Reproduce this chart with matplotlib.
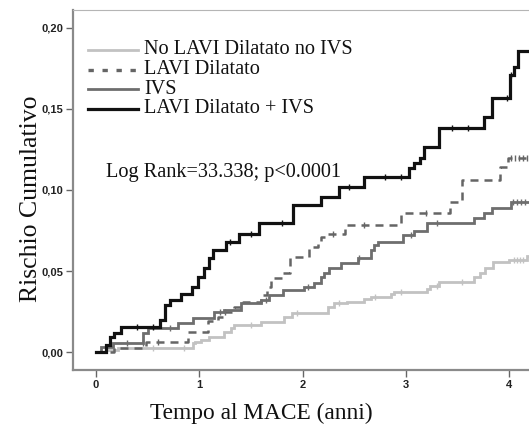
import numpy as np
import matplotlib
matplotlib.use('Agg')
import matplotlib.pyplot as plt

# -------------------- Data --------------------
# event times (anni) and cumulative risk reached at each step
t_no = [0.097, 0.214, 0.934, 0.96, 1.012, 1.09, 1.236, 1.304, 1.333, 1.596, 1.82, 1.898,
        2.248, 2.307, 2.433, 2.599, 2.667, 2.861, 2.89, 3.202, 3.24, 3.319, 3.66, 3.718,
        3.766, 3.844, 4.0, 4.175]
r_no = [0.0012, 0.0025, 0.0055, 0.0062, 0.0074, 0.0093, 0.0123, 0.0148, 0.0167, 0.0185, 0.0216, 0.024,
        0.028, 0.030, 0.031, 0.033, 0.034, 0.036, 0.037, 0.039, 0.041, 0.043, 0.046, 0.049,
        0.052, 0.0555, 0.057, 0.059]

t_lavi = [0.175, 0.487, 0.886, 1.08, 1.178, 1.236, 1.333, 1.421, 1.596, 1.654, 1.693, 1.81,
          1.878, 2.063, 2.151, 2.18, 2.219, 2.414, 2.959, 3.426, 3.543, 3.912, 3.99]
r_lavi = [0.0025, 0.006, 0.0123, 0.019, 0.0216, 0.0247, 0.028, 0.031, 0.035, 0.040, 0.0457, 0.049,
          0.0586, 0.0648, 0.067, 0.071, 0.073, 0.0784, 0.0858, 0.0926, 0.106, 0.114, 0.120]

t_ivs = [0.049, 0.165, 0.457, 0.506, 0.798, 0.934, 1.139, 1.236, 1.401, 1.596, 1.674, 1.81,
         2.015, 2.112, 2.18, 2.209, 2.258, 2.375, 2.54, 2.667, 2.696, 2.735, 2.978, 3.085,
         3.202, 3.66, 3.757, 3.835, 4.02]
r_ivs = [0.003, 0.0055, 0.0117, 0.0148, 0.018, 0.021, 0.0247, 0.026, 0.030, 0.032, 0.035, 0.038,
         0.040, 0.0426, 0.046, 0.049, 0.052, 0.055, 0.058, 0.063, 0.066, 0.068, 0.072, 0.075,
         0.0796, 0.0827, 0.0858, 0.089, 0.0926]

t_both = [0.097, 0.136, 0.175, 0.243, 0.623, 0.672, 0.72, 0.818, 0.93, 0.983, 1.041, 1.09,
          1.129, 1.255, 1.382, 1.577, 1.908, 2.18, 2.355, 2.599, 3.036, 3.085, 3.134, 3.182,
          3.319, 3.757, 3.835, 4.01, 4.05, 4.088]
r_both = [0.0043, 0.009, 0.0117, 0.0154, 0.0197, 0.029, 0.032, 0.036, 0.040, 0.046, 0.052, 0.058,
          0.063, 0.068, 0.073, 0.0795, 0.0907, 0.0957, 0.1018, 0.108, 0.1135, 0.1166, 0.120, 0.1265,
          0.138, 0.145, 0.157, 0.171, 0.176, 0.186]

# censored observations (tick marks)
c_no = [0.55, 0.85, 1.5, 1.95, 2.35, 2.7, 2.95, 3.3, 3.55, 4.05, 4.08, 4.11, 4.14]
c_lavi = [0.6, 1.25, 2.3, 2.6, 3.2, 4.02, 4.06, 4.1, 4.14, 4.18]
c_ivs = [0.3, 0.45, 0.72, 1.2, 1.65, 2.05, 2.55, 3.05, 3.3, 4.04, 4.08, 4.12, 4.16]
c_both = [0.4, 0.55, 1.3, 1.5, 1.8, 2.45, 2.8, 2.95, 3.45, 3.6, 3.98, 4.02]

labels = ['No LAVI Dilatato no IVS', 'LAVI Dilatato', 'IVS', 'LAVI Dilatato + IVS']
x_ticks = [0, 1, 2, 3, 4]
y_ticks = [0.0, 0.05, 0.10, 0.15, 0.20]
y_ticklabels = ['0,00', '0,05', '0,10', '0,15', '0,20']

# -------------------- Plot --------------------
fig = plt.figure(figsize=(5.29, 4.33), dpi=100)
ax = fig.add_axes([73 / 529, 63 / 433, 458 / 529, 360 / 433])

styles = [
    dict(color='#c2c2c2', lw=2.0),
    dict(color='#656565', lw=1.8, dashes=(3.2, 2.4)),
    dict(color='#6e6e6e', lw=2.0),
    dict(color='#111111', lw=2.3),
]
# the legend sample of the dashed series is drawn as little squares
leg_styles = [styles[0], dict(color='#656565', lw=2.4, dashes=(1.6, 2.6)), styles[2], styles[3]]

groups = [(t_no, r_no, c_no), (t_lavi, r_lavi, c_lavi), (t_ivs, r_ivs, c_ivs), (t_both, r_both, c_both)]
x_end = 4.3

for (t, r, c), st in zip(groups, styles):
    tt = np.r_[0, t, x_end]
    rr = np.r_[0, r, r[-1]]
    ax.step(tt, rr, where='post', solid_joinstyle='miter', **st)
    cv = rr[np.searchsorted(tt, c, side='right') - 1]
    ax.plot(c, cv, ls='none', marker='|', ms=5, mew=1.0, color=st['color'])

ax.set_xlim(-0.224, 4.214)
ax.set_ylim(-0.0111, 0.2111)
ax.set_xticks(x_ticks)
ax.set_yticks(y_ticks)
ax.set_yticklabels(y_ticklabels)

tick_font = dict(family='Liberation Sans', weight='bold', size=8)
for lab in ax.get_xticklabels() + ax.get_yticklabels():
    lab.set_fontproperties(matplotlib.font_manager.FontProperties(**tick_font))
    lab.set_color('#222222')
ax.tick_params(axis='both', direction='out', length=5, width=1.0, color='#666666', pad=2)

for side in ['left', 'bottom']:
    ax.spines[side].set_color('#8a8a8a')
    ax.spines[side].set_linewidth(1.6)
ax.spines['top'].set_color('#b5b5b5')
ax.spines['top'].set_linewidth(0.8)
ax.spines['right'].set_visible(False)

serif = 'Liberation Serif'

# legend, drawn by hand to keep the tight row spacing
leg_y = [50, 69.5, 89, 108.5]
for lab, st, py in zip(labels, leg_styles, leg_y):
    yf = 1 - py / 433
    ax.plot([88 / 529, 138 / 529], [yf, yf], transform=fig.transFigure, clip_on=False, **st)
    fig.text(144 / 529, yf, lab, family=serif, fontsize=14.6, va='center', ha='left', color='#111111')

fig.text(106 / 529, 1 - 172 / 433, 'Log Rank=33.338; p<0.0001', family=serif, fontsize=14.6,
         va='center', ha='left', color='#111111')

fig.text(31 / 529, 1 - 199 / 433, 'Rischio Cumulativo', family=serif, fontsize=18.5,
         rotation=90, va='center', ha='center', color='#111111')
fig.text(261 / 529, 1 - 413 / 433, 'Tempo al MACE (anni)', family=serif, fontsize=16.8,
         va='center', ha='center', color='#111111')

fig.savefig('out.png', dpi=100)
